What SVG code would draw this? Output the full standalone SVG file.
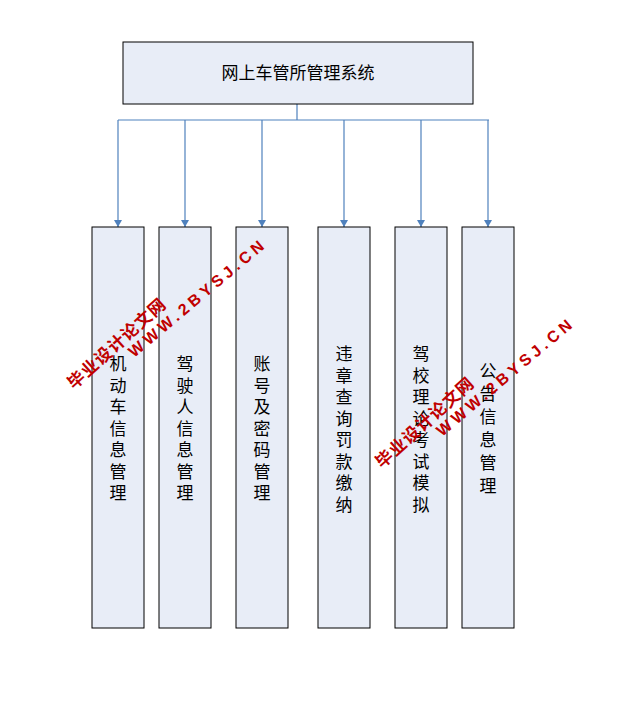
<svg xmlns="http://www.w3.org/2000/svg" width="641" height="708" viewBox="0 0 641 708">
<style>
.b{fill:#e8edf7;stroke:#000;stroke-width:1}
.t{font-family:"Noto Sans CJK SC","Liberation Sans",sans-serif;font-size:17px;fill:#000;text-anchor:middle}
.c{stroke:#4f81bd;stroke-width:1.2;fill:none}
.w{font-family:"Liberation Sans","Noto Sans CJK SC",sans-serif;font-weight:bold;fill:#c00000;font-size:16px}
.wc{font-family:"Noto Sans CJK SC",sans-serif;font-weight:bold;fill:#c00000;font-size:17px}
</style>
<defs><marker id="a" markerWidth="8" markerHeight="8" refX="7" refY="4" orient="auto" markerUnits="userSpaceOnUse"><path d="M0,0 L7,4 L0,8 z" fill="#4f81bd"/></marker></defs>
<rect width="641" height="708" fill="#fff"/>
<g id="connectors">
<path class="c" d="M297,104 V120 M118,120 H489"/>
<path class="c" marker-end="url(#a)" d="M118,120 V227"/>
<path class="c" marker-end="url(#a)" d="M185,120 V227"/>
<path class="c" marker-end="url(#a)" d="M262,120 V227"/>
<path class="c" marker-end="url(#a)" d="M344,120 V227"/>
<path class="c" marker-end="url(#a)" d="M421,120 V227"/>
<path class="c" marker-end="url(#a)" d="M488,120 V227"/>
</g>
<g id="root"><rect class="b" x="123" y="42" width="350" height="62"/><text class="t" x="298" y="79">网上车管所管理系统</text></g>
<g id="n1"><rect class="b" x="92" y="227" width="52" height="401"/><text class="t"><tspan x="118" y="370">机</tspan><tspan x="118" dy="21.5">动</tspan><tspan x="118" dy="21.5">车</tspan><tspan x="118" dy="21.5">信</tspan><tspan x="118" dy="21.5">息</tspan><tspan x="118" dy="21.5">管</tspan><tspan x="118" dy="21.5">理</tspan></text></g>
<g id="n2"><rect class="b" x="159" y="227" width="52" height="401"/><text class="t"><tspan x="185" y="370">驾</tspan><tspan x="185" dy="21.5">驶</tspan><tspan x="185" dy="21.5">人</tspan><tspan x="185" dy="21.5">信</tspan><tspan x="185" dy="21.5">息</tspan><tspan x="185" dy="21.5">管</tspan><tspan x="185" dy="21.5">理</tspan></text></g>
<g id="n3"><rect class="b" x="236" y="227" width="52" height="401"/><text class="t"><tspan x="262" y="370">账</tspan><tspan x="262" dy="21.5">号</tspan><tspan x="262" dy="21.5">及</tspan><tspan x="262" dy="21.5">密</tspan><tspan x="262" dy="21.5">码</tspan><tspan x="262" dy="21.5">管</tspan><tspan x="262" dy="21.5">理</tspan></text></g>
<g id="n4"><rect class="b" x="318" y="227" width="52" height="401"/><text class="t"><tspan x="344" y="360">违</tspan><tspan x="344" dy="21.5">章</tspan><tspan x="344" dy="21.5">查</tspan><tspan x="344" dy="21.5">询</tspan><tspan x="344" dy="21.5">罚</tspan><tspan x="344" dy="21.5">款</tspan><tspan x="344" dy="21.5">缴</tspan><tspan x="344" dy="21.5">纳</tspan></text></g>
<g id="n5"><rect class="b" x="395" y="227" width="52" height="401"/><text class="t"><tspan x="421" y="360">驾</tspan><tspan x="421" dy="21.5">校</tspan><tspan x="421" dy="21.5">理</tspan><tspan x="421" dy="21.5">论</tspan><tspan x="421" dy="21.5">考</tspan><tspan x="421" dy="21.5">试</tspan><tspan x="421" dy="21.5">模</tspan><tspan x="421" dy="21.5">拟</tspan></text></g>
<g id="n6"><rect class="b" x="462" y="227" width="52" height="401"/><text class="t"><tspan x="488" y="377">公</tspan><tspan x="488" dy="23">告</tspan><tspan x="488" dy="23">信</tspan><tspan x="488" dy="23">息</tspan><tspan x="488" dy="23">管</tspan><tspan x="488" dy="23">理</tspan></text></g>
<g id="watermark">
<text class="wc" transform="translate(74,390) rotate(-42)" letter-spacing="1">毕业设计论文网</text>
<text class="w" transform="translate(134,358) rotate(-40)" letter-spacing="4">WWW.2BYSJ.CN</text>
<text class="wc" transform="translate(382,469) rotate(-42)" letter-spacing="1">毕业设计论文网</text>
<text class="w" transform="translate(442,437) rotate(-40)" letter-spacing="4">WWW.2BYSJ.CN</text>
</g>
</svg>
